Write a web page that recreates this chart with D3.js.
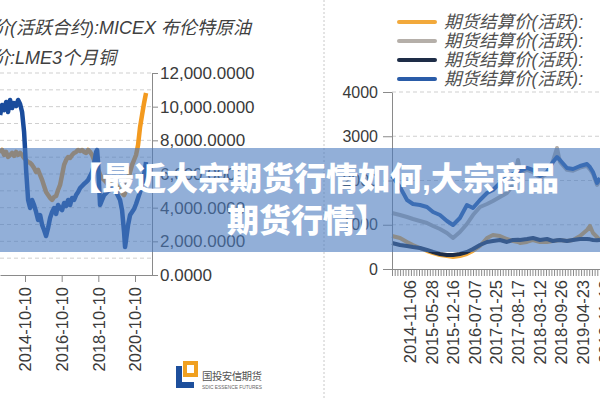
<!DOCTYPE html>
<html><head><meta charset="utf-8">
<script src="https://cdn.jsdelivr.net/npm/d3@7"></script>
<style>
html,body{margin:0;padding:0;background:#fff;}
svg{display:block;}
text{font-family:"Liberation Sans","Noto Sans CJK SC",sans-serif;}
</style></head><body>
<svg id="c" width="600" height="400"></svg>
<script>
// ---------- LEFT CHART DATA ----------
const leftDates = [
"2013-06-01","2013-07-11","2013-08-20","2013-09-29","2013-11-07","2013-12-17","2014-01-26","2014-03-07","2014-04-16","2014-05-26",
"2014-07-04","2014-08-13","2014-09-22","2014-10-12","2014-11-01","2014-11-21","2014-12-11","2015-01-20","2015-02-28","2015-04-09",
"2015-05-19","2015-06-28","2015-08-07","2015-09-16","2015-10-25","2015-12-04","2016-01-13","2016-02-22","2016-04-02","2016-05-12",
"2016-06-21","2016-07-30","2016-09-08","2016-10-18","2016-11-27","2017-01-06","2017-02-15","2017-03-26","2017-05-05","2017-06-14",
"2017-07-24","2017-09-02","2017-10-12","2017-11-20","2017-12-30","2018-02-08","2018-03-20","2018-04-29","2018-06-08","2018-07-17",
"2018-08-26","2018-09-15","2018-10-05","2018-10-25","2018-11-14","2018-12-24","2019-02-02","2019-03-14","2019-04-22","2019-06-01",
"2019-07-11","2019-08-20","2019-09-29","2019-11-08","2019-12-17","2020-01-26","2020-03-06","2020-03-26","2020-04-15","2020-05-25",
"2020-07-04","2020-08-13","2020-09-21","2020-10-31","2020-12-10","2021-01-19","2021-02-28","2021-04-09","2021-05-18"];
const leftBrent = [
110.9,117.8,114.3,119.9,113.0,121.3,115.7,119.2,117.1,121.3,
118.5,113.0,99.1,86.6,72.8,62.4,52.0,46.4,52.0,48.5,
43.7,38.1,41.6,34.7,31.2,27.0,32.6,39.5,43.7,46.4,
42.3,48.5,46.4,45.0,49.9,47.8,52.0,48.5,53.4,52.0,
55.4,57.5,60.3,61.7,63.1,64.4,65.8,68.6,71.4,76.9,
85.2,86.6,78.3,62.4,48.5,52.0,55.4,56.8,58.2,58.9,
60.3,58.9,57.5,54.7,52.0,45.0,29.8,19.4,24.3,34.7,
41.6,43.7,45.7,49.2,53.4,57.5,62.4,69.3,78.3];
const leftCopper = [
7250,7430,7130,7310,7010,7130,7250,7070,7310,7130,
7250,7130,6950,6890,6830,6770,6710,6660,6540,6360,
6120,6240,5940,5650,5290,4930,4750,4580,4460,4630,
4690,5050,5350,5940,6540,6830,7010,6950,7130,7250,
7310,7430,7370,7430,7310,7250,7430,7310,7130,6830,
6540,6420,6240,6120,5940,5760,5650,5530,5350,5470,
5290,5170,5350,5170,5050,4870,4750,4870,5170,5650,
6120,6540,6830,7130,7720,8790,9510,10220,10810];
const leftYTicks = [0,2000,4000,6000,8000,10000,12000];
const leftGrid = [1000,2000,3000,4000,5000,6000,7000,8000,9000,10000,11000,12000];
const leftXTicks = ["2014-10-10","2016-10-10","2018-10-10","2020-10-10"];
const leftTitles = ["价(活跃合约):MICEX 布伦特原油","价:LME3个月铜"];

// ---------- RIGHT CHART DATA ----------
const rightDates = [
"2014-05-21","2014-08-04","2014-10-09","2014-12-04","2015-02-08","2015-04-15","2015-06-11","2015-08-15","2015-10-20","2015-12-16",
"2016-02-19","2016-04-25","2016-06-21","2016-08-26","2016-10-31","2016-12-26","2017-03-02","2017-05-07","2017-07-03","2017-08-19",
"2017-09-07","2017-11-12","2018-01-07","2018-03-14","2018-05-19","2018-07-14","2018-08-21","2018-09-18","2018-11-23","2019-01-19",
"2019-03-26","2019-05-31","2019-06-28","2019-07-26","2019-09-02","2019-09-30"];
const rightOrange = [746,701,611,543,475,407,362,316,294,271, 294,339,407,520,701,769,746,678,633,610, 588,611,656,611,611,633,645,656,633,656, 746,882,972,814,724,656];
const rightGray   = [1266,1220,1175,1130,1085,1040,972,904,814,701, 837,1017,1220,1401,1469,1537,1627,1718,1899,2463, 2180,2240,2190,2060,2150,2440,2734,2420,2240,2220, 2290,2330,2250,2150,1900,2010];
const rightNavy   = [588,543,520,497,475,430,384,339,316,316, 339,384,452,543,611,633,656,611,656,660, 656,678,701,656,678,633,650,656,633,656, 678,678,670,656,650,656];
const rightBlue   = [2100,1850,1560,1469,1446,1401,1288,1220,1085,994, 1153,1446,1379,1559,1718,1785,1944,2057,2147,2200, 2215,2283,2237,2102,2192,2418,2531,2463,2283,2260, 2328,2373,2300,2192,1944,2057];
const rightYTicks = [0,1000,2000,3000,4000];
const rightXTicks = ["2014-11-06","2015-05-28","2015-12-16","2016-07-07","2017-01-25","2017-08-17","2018-03-12","2018-09-26","2019-04-23","2019-11-13"];
const legendLabels = ["期货结算价(活跃):","期货结算价(活跃):","期货结算价(活跃):","期货结算价(活跃):"];
const bannerLines = ["【最近大宗期货行情如何,大宗商品","期货行情】"];
const logoCN = "国投安信期货", logoEN = "SDIC ESSENCE FUTURES";

// ---------- STYLE ----------
const rightColors = ["#f2a93b","#b5afa9","#1e2d47","#2a5ca8"];
const leftBlue = "#1a4c9c", leftOrange = "#f39a1f";
const axisColor = "#8a8a8a", gridColor = "#cfcfcf", labelColor = "#3a3a3a";

const parse = d3.timeParse("%Y-%m-%d");
const fmt = d3.timeFormat("%Y-%m-%d");
const svg = d3.select("#c");
svg.append("rect").attr("width",600).attr("height",400).attr("fill","#fff");

// ================= LEFT =================
const L = svg.append("g");
const xL0 = d3.scaleTime().domain([parse("2014-10-10"), parse("2020-10-10")]).range([25,135]);
const xL = d3.scaleTime().domain([xL0.invert(0), xL0.invert(152)]).range([0,152]);
const yL = d3.scaleLinear().domain([0,12000]).range([275,73]);
const yB = d3.scaleLinear().domain([0,140]).range([275,73]);

L.selectAll("line.grid").data(leftGrid).join("line")
  .attr("x1",0).attr("x2",152).attr("y1",d=>yL(d)).attr("y2",d=>yL(d))
  .attr("stroke",gridColor).attr("stroke-dasharray","4,3");

const leftRows = leftDates.map((d,i)=>({date:parse(d), brent:leftBrent[i], copper:leftCopper[i]}));
L.append("path").datum(leftRows)
  .attr("fill","none").attr("stroke",leftOrange).attr("stroke-width",4.5).attr("stroke-linejoin","round")
  .attr("d", d3.line().x(d=>xL(d.date)).y(d=>yL(d.copper)));
L.append("path").datum(leftRows)
  .attr("fill","none").attr("stroke",leftBlue).attr("stroke-width",4.5).attr("stroke-linejoin","round")
  .attr("d", d3.line().x(d=>xL(d.date)).y(d=>yB(d.brent)));

const gLy = L.append("g").attr("transform","translate(152,0)")
  .call(d3.axisRight(yL).tickValues(leftYTicks).tickFormat(d3.format(",.4f")).tickSize(6).tickSizeOuter(0).tickPadding(2));
gLy.selectAll("path,line").attr("stroke",axisColor);
gLy.selectAll("text").attr("font-size",17).attr("fill",labelColor).attr("font-family","Liberation Sans, Arial, sans-serif");

const gLx = L.append("g").attr("transform","translate(0,275)")
  .call(d3.axisBottom(xL).tickValues(leftXTicks.map(parse)).tickFormat(fmt).tickSize(7).tickSizeOuter(0));
gLx.selectAll("path,line").attr("stroke",axisColor);
gLx.selectAll("text").attr("font-size",16.5).attr("fill",labelColor).attr("font-family","Liberation Sans, Arial, sans-serif")
  .attr("transform","rotate(-90)").attr("text-anchor","end").attr("x",-12).attr("y",0).attr("dy","0.35em");

L.selectAll("text.title").data(leftTitles).join("text")
  .attr("x",-8).attr("y",(d,i)=>34+i*30).attr("font-size",18).attr("font-style","italic").attr("fill","#404040")
  .text(d=>d);

// ================= SEPARATOR =================
svg.append("line").attr("x1",324).attr("x2",324).attr("y1",0).attr("y2",400)
  .attr("stroke","#c8c8c8").attr("stroke-dasharray","2,2");

// ================= RIGHT =================
const R = svg.append("g");
const xR0 = d3.scaleTime().domain([parse("2014-11-06"), parse("2019-04-23")]).range([410,583]);
const xR = d3.scaleTime().domain([xR0.invert(392), xR0.invert(600)]).range([392,600]);
const yR = d3.scaleLinear().domain([0,4000]).range([269,92]);

R.selectAll("line.grid").data(rightYTicks.filter(d=>d>0)).join("line")
  .attr("x1",392).attr("x2",600).attr("y1",d=>yR(d)).attr("y2",d=>yR(d))
  .attr("stroke",gridColor).attr("stroke-dasharray","4,3");

const rightSeries = [rightOrange,rightGray,rightNavy,rightBlue];
const rDates = rightDates.map(parse);
rightSeries.forEach((vals,si)=>{
  R.append("path").datum(vals.map((v,i)=>({date:rDates[i], v})))
    .attr("fill","none").attr("stroke",rightColors[si]).attr("stroke-width",4).attr("stroke-linejoin","round")
    .attr("d", d3.line().x(d=>xR(d.date)).y(d=>yR(d.v)));
});

const gRy = R.append("g").attr("transform","translate(392,0)")
  .call(d3.axisLeft(yR).tickValues(rightYTicks).tickFormat(d3.format("d")).tickSize(9).tickSizeOuter(0).tickPadding(5));
gRy.selectAll("path,line").attr("stroke",axisColor);
gRy.selectAll("text").attr("font-size",16).attr("fill",labelColor).attr("font-family","Liberation Sans, Arial, sans-serif");

// dense minor ticks
const d0 = +xR.domain()[0], d1 = +xR.domain()[1];
const minorTicks = d3.range(78).map(i=>new Date(d0 + i*(d1-d0)/77));
const gRm = R.append("g").attr("transform","translate(0,269)")
  .call(d3.axisBottom(xR).tickValues(minorTicks).tickFormat("").tickSize(7).tickSizeOuter(0));
gRm.selectAll("path,line").attr("stroke",axisColor);

const gRx = R.append("g").attr("transform","translate(0,269)")
  .call(d3.axisBottom(xR).tickValues(rightXTicks.map(parse)).tickFormat(fmt).tickSize(0).tickSizeOuter(0));
gRx.select("path").remove();
gRx.selectAll("text").attr("font-size",16.5).attr("fill",labelColor).attr("font-family","Liberation Sans, Arial, sans-serif")
  .attr("transform","rotate(-90)").attr("text-anchor","end").attr("x",-11).attr("y",0).attr("dy","0.35em");

// legend
const lg = R.selectAll("g.lg").data(legendLabels).join("g").attr("transform",(d,i)=>`translate(0,${22+i*19})`);
lg.append("line").attr("x1",399).attr("x2",435).attr("stroke",(d,i)=>rightColors[i]).attr("stroke-width",4).attr("stroke-linecap","round");
lg.append("text").attr("x",444).attr("y",6).attr("font-size",17.5).attr("font-style","italic").attr("fill","#505050").text(d=>d);

// ================= LOGO =================
const lgo = svg.append("g");
lgo.append("rect").attr("x",183).attr("y",361).attr("width",15).attr("height",16).attr("fill","#f0a020");
lgo.append("rect").attr("x",187).attr("y",365).attr("width",7).attr("height",8).attr("fill","#fff");
lgo.append("rect").attr("x",176).attr("y",366).attr("width",6).attr("height",22).attr("fill","#1d4f9c");
lgo.append("rect").attr("x",176).attr("y",382).attr("width",18).attr("height",6).attr("fill","#1d4f9c");
lgo.append("text").attr("x",202).attr("y",380).attr("font-size",10.5).attr("fill","#555")
  .attr("font-family","Noto Sans CJK SC").attr("textLength",60).text(logoCN);
lgo.append("text").attr("x",202).attr("y",389).attr("font-size",5.5).attr("fill","#666")
  .attr("textLength",60).attr("lengthAdjust","spacingAndGlyphs").text(logoEN);

// ================= BANNER =================
svg.append("rect").attr("x",0).attr("y",148).attr("width",600).attr("height",104)
  .attr("fill","rgb(74,122,190)").attr("fill-opacity",0.6);
svg.selectAll("text.banner").data(bannerLines).join("text")
  .attr("x",(d,i)=>i===0?70:227).attr("y",(d,i)=>i===0?190:232)
  .attr("font-family","Noto Sans CJK SC").attr("font-weight",900).attr("font-size",32).attr("fill","#fff")
  .text(d=>d);
</script></body></html>
